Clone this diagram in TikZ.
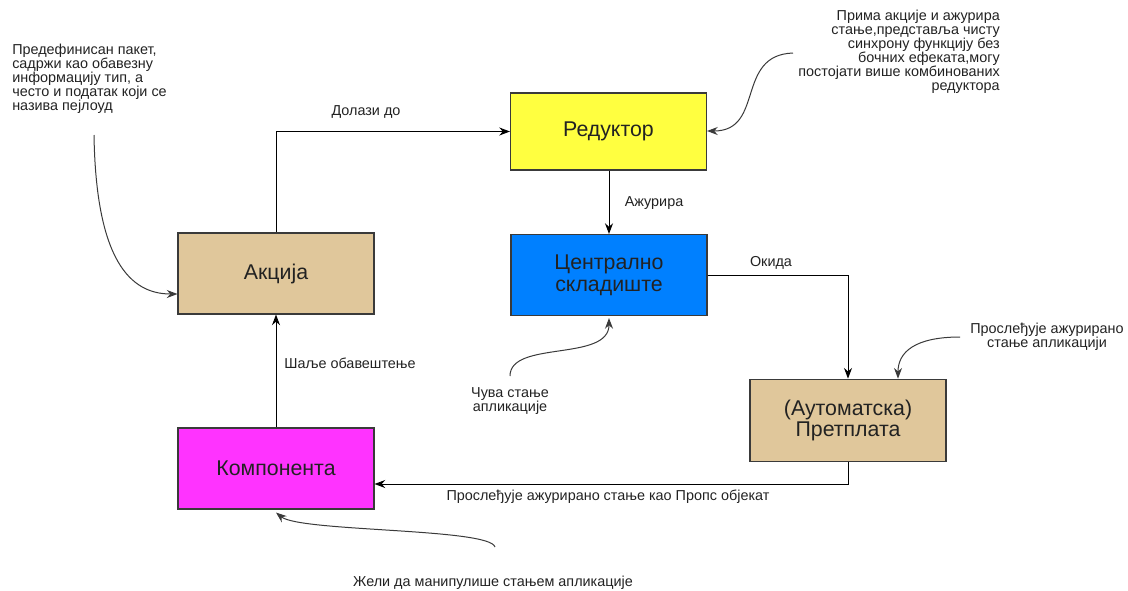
\documentclass[tikz,border=0pt]{standalone}
\usepackage{fontspec}
\setmainfont{Liberation Sans}
\usepackage{xcolor}
\usetikzlibrary{arrows.meta,positioning,calc}
\definecolor{tan}{HTML}{E0C79B}
\definecolor{zuta}{HTML}{FFFF40}
\definecolor{plava}{HTML}{0080FF}
\definecolor{roze}{HTML}{FF33FF}
\definecolor{ivica}{HTML}{3A3A3A}
\definecolor{tekst}{HTML}{222222}

\begin{document}
\begin{tikzpicture}[x = .75pt, y = -.75pt,
  kutija/.style = {draw = ivica, line width = .8pt, minimum width = 147pt, minimum height = 60.75pt,
    inner sep = 0pt, align = center, font = \fontsize{16}{16.3}\selectfont, text = tekst},
  veza/.style = {-{Stealth[length = 8pt, width = 6pt]}, line width = .75pt, draw = black},
  napomena/.style = {-{Stealth[length = 8pt, width = 6pt]}, line width = .75pt, draw = ivica},
  oznaka/.style = {inner sep = 0pt, font = \fontsize{10.8}{10.5}\selectfont, text = tekst}]
\useasboundingbox (0,0) rectangle (1128,590);
% boxes
\node[kutija, fill = tan] (akcija) at (276,273.5) {Акција};
\node[kutija, fill = zuta, minimum height = 57.75pt] (reduktor) at (608.5,131.5) {Редуктор};
\node[kutija, fill = plava] (skladiste) at (609,275) {Централно\\складиште};
\node[kutija, fill = tan, minimum height = 62pt] (pretplata) at (848,420.5) {(Аутоматска)\\Претплата};
\node[kutija, fill = roze] (komponenta) at (276,468.5) {Компонента};
% main flow
\coordinate (ulaz) at ($(komponenta.east)+(0,15.5)$);
\draw[veza] (akcija.north) |- (reduktor.west);
\draw[veza] (reduktor.south -| skladiste.north) -- (skladiste.north);
\draw[veza] (skladiste.east) -| (pretplata.north);
\draw[veza] (pretplata.south) |- (ulaz);
\draw[veza] (komponenta.north) -- (akcija.south);
\node[oznaka] (l1) at (366,112) {Долази до};
\node[oznaka] (l2) at (654,203) {Ажурира};
\node[oznaka] (l3) at (771,263) {Окида};
\node[oznaka] (l4) at (608,497) {Прослеђује ажурирано стање као Пропс објекат};
\node[oznaka] (l5) at (350,363) {Шаље обавештење};
% notes
\node[oznaka, anchor = north west, align = left] (n1) at (12,44)
  {Предефинисан пакет,\\садржи као обавезну\\информацију тип, а\\често и податак који се\\назива пејлоуд};
\node[oznaka, anchor = north east, align = right] (n2) at (1000,10)
  {Прима акције и ажурира\\стање,представља чисту\\синхрону функцију без\\бочних ефеката,могу\\постојати више комбинованих\\редуктора};
\node[oznaka, align = center] (n3) at (1047,337) {Прослеђује ажурирано\\стање апликацији};
\node[oznaka, align = center] (n4) at (510,401) {Чува стање\\апликације};
\node[oznaka] (n5) at (493,583) {Жели да манипулише стањем апликације};
\coordinate (p1) at (94,135);
\coordinate (p2) at (793,53);
\coordinate (p3) at (960,337);
\coordinate (p4) at (510,376);
\coordinate (p5) at (495,547);
\draw[napomena] (p1) .. controls (96,260) and (130,294) .. ($(akcija.west)+(0,20.5)$);
\draw[napomena] (p2) .. controls (735,55) and (765,131) .. ($(reduktor.east)+(0,-0.5)$);
\draw[napomena] (p3) .. controls (915,337) and (898,352) .. ($(pretplata.north)+(50,0)$);
\draw[napomena] (p4) .. controls (510,340) and (609,362) .. ($(skladiste.south)+(0,2)$);
\draw[napomena] (p5) .. controls (490,528) and (300,532) .. ($(komponenta.south)+(0,3)$);
\end{tikzpicture}
\end{document}
